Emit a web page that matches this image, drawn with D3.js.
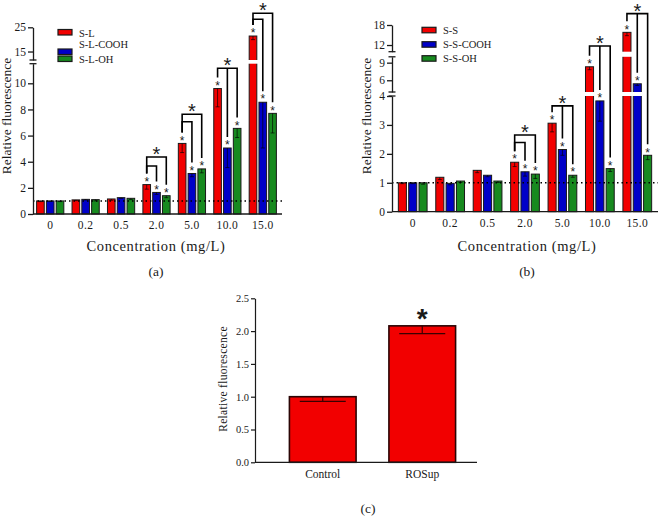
<!DOCTYPE html>
<html>
<head>
<meta charset="utf-8">
<script src="https://cdn.jsdelivr.net/npm/d3@7"></script>
<style>
body { margin: 0; background: #fff; }
text { font-family: "Liberation Serif", "DejaVu Serif", serif; fill: #1a1a1a; }
text.star { font-family: "Liberation Sans", Arial, sans-serif; }
</style>
</head>
<body>
<svg id="fig" width="659" height="518"></svg>
<script>
const concentrations = ["0", "0.2", "0.5", "2.0", "5.0", "10.0", "15.0"];

// panel (a)
const slNames = ["S-L", "S-L-COOH", "S-L-OH"];
const slMean = [1.0, 1.08, 1.15, 2.25, 5.4, 9.6, 21.4];
const slErr = [0.05, 0.06, 0.1, 0.35, 0.7, 1.4, 1.5];
const slCoohMean = [1.0, 1.12, 1.25, 1.65, 3.1, 5.05, 8.55];
const slCoohErr = [0.03, 0.05, 0.05, 0.15, 0.25, 1.5, 3.5];
const slOhMean = [1.0, 1.1, 1.2, 1.4, 3.45, 6.55, 7.7];
const slOhErr = [0.05, 0.1, 0.1, 0.15, 0.3, 0.7, 1.5];
const aBreaks = [[0, 11.5], [11.5, 25]];
const aTicks = [[0, 2, 4, 6, 8, 10], [15, 25]];
// [group index, inner bracket level, outer bracket level]
const aBrackets = [[3, 3.67, 4.36], [4, 7.06, 7.63], [5, 11.15, 11.15], [6, 28.3, 30.8]];

// panel (b)
const ssNames = ["S-S", "S-S-COOH", "S-S-OH"];
const ssMean = [1.0, 1.19, 1.43, 1.71, 3.06, 8.3, 15.8];
const ssErr = [0.03, 0.08, 0.08, 0.15, 0.3, 0.5, 1.0];
const ssCoohMean = [1.0, 0.98, 1.26, 1.38, 2.15, 3.83, 5.4];
const ssCoohErr = [0.03, 0.05, 0.05, 0.15, 0.2, 0.7, 0.3];
const ssOhMean = [1.0, 1.06, 1.06, 1.3, 1.26, 1.49, 1.95];
const ssOhErr = [0.05, 0.05, 0.05, 0.15, 0.07, 0.1, 0.15];
const bBreaks = [[0, 4], [4, 10], [10, 18]];
const bTicks = [[0, 1, 2, 3, 4], [6, 9], [12, 18]];
const bBrackets = [[3, 2.39, 2.65], [4, 3.66, 3.66], [5, 11.7, 11.7], [6, 21.4, 21.4]];

// panel (c)
const cCats = ["Control", "ROSup"];
const cMean = [1.0, 2.08];
const cErr = [0.07, 0.12];
const cTicks = [0, 0.5, 1.0, 1.5, 2.0, 2.5];

const colors = ["#f20000", "#0000c8", "#178a1f"];
const ink = "#1a1a1a";
const serif = "Liberation Serif, DejaVu Serif, serif";

const svg = d3.select("#fig");

function star(g, x, yc, size, bold) {
	// asterisk glyph sits high, shift baseline so its centre lands on yc
	g.append("text")
		.attr("class", "star")
		.attr("x", x)
		.attr("y", yc + size * 0.56)
		.attr("text-anchor", "middle")
		.attr("font-size", size)
		.attr("font-weight", bold ? "bold" : "normal")
		.text("*");
}

function groupedPanel(opt) {
	const g = svg.append("g");
	const names = opt.series.map(s => s.name);

	const x = d3.scaleBand().domain(concentrations).range(opt.xRange);
	const xs = d3.scaleBand().domain(names).range([0, x.bandwidth()])
		.paddingInner(0.22).paddingOuter(0.42);

	const segs = opt.breaks.map((d, i) => d3.scaleLinear().domain(d).range(opt.segRanges[i]));
	function y(v) {
		let s = segs[0];
		segs.forEach(sc => { if (v > sc.domain()[0]) s = sc; });
		return s(v);
	}
	const y0 = y(0);
	const cx = (ci, si) => x(concentrations[ci]) + xs(names[si]) + xs.bandwidth() / 2;

	const bars = [];
	opt.series.forEach((s, si) => {
		s.mean.forEach((v, ci) => bars.push({ si, ci, v, e: s.err[ci], color: s.color }));
	});

	g.selectAll("rect.bar").data(bars).enter().append("rect")
		.attr("class", "bar")
		.attr("x", d => x(concentrations[d.ci]) + xs(names[d.si]))
		.attr("y", d => y(d.v))
		.attr("width", xs.bandwidth())
		.attr("height", d => y0 - y(d.v))
		.attr("fill", d => d.color)
		.attr("stroke", ink)
		.attr("stroke-width", 1);

	// error bars (drawn inside the bars)
	const eb = g.selectAll("g.err").data(bars).enter().append("g")
		.attr("stroke", "rgba(0,0,0,0.65)").attr("stroke-width", 1);
	eb.append("line")
		.attr("x1", d => cx(d.ci, d.si)).attr("x2", d => cx(d.ci, d.si))
		.attr("y1", d => y(d.v)).attr("y2", d => y(d.v - d.e));
	eb.append("line")
		.attr("x1", d => cx(d.ci, d.si) - 2).attr("x2", d => cx(d.ci, d.si) + 2)
		.attr("y1", d => y(d.v - d.e)).attr("y2", d => y(d.v - d.e));

	// white gaps where the axis is broken
	for (let i = 0; i < segs.length - 1; i++) {
		const lo = segs[i].range()[1], hi = segs[i + 1].range()[0];
		g.append("rect")
			.attr("x", opt.axisX + 1).attr("y", hi)
			.attr("width", opt.axisEnd - opt.axisX).attr("height", lo - hi)
			.attr("fill", "#fff");
	}

	// dotted control level
	g.append("line")
		.attr("x1", opt.axisX).attr("x2", opt.axisEnd)
		.attr("y1", y(1)).attr("y2", y(1))
		.attr("stroke", "#000").attr("stroke-width", 1.5)
		.attr("stroke-dasharray", "1.5,3");

	// y axis segments
	segs.forEach((sc, i) => {
		const ax = g.append("g")
			.attr("transform", `translate(${opt.axisX},0)`)
			.call(d3.axisLeft(sc).tickValues(opt.ticks[i]).tickSize(5).tickSizeOuter(0).tickPadding(2).tickFormat(d3.format("d")));
		ax.attr("font-family", serif);
		ax.select(".domain").attr("stroke", ink).attr("stroke-width", 1.3);
		ax.selectAll(".tick line").attr("stroke", ink).attr("stroke-width", 1.3);
		ax.selectAll(".tick text").attr("font-size", 11.5).attr("fill", ink);
		const ends = [];
		if (i > 0) ends.push(sc.range()[0]);
		if (i < segs.length - 1) ends.push(sc.range()[1]);
		ends.forEach(e => g.append("line")
			.attr("x1", opt.axisX - 3.5).attr("x2", opt.axisX + 3.5)
			.attr("y1", e).attr("y2", e)
			.attr("stroke", ink).attr("stroke-width", 1.3));
	});

	// x axis
	g.append("line")
		.attr("x1", opt.axisX).attr("x2", opt.axisEnd)
		.attr("y1", y0).attr("y2", y0)
		.attr("stroke", ink).attr("stroke-width", 1.3);
	g.selectAll("text.xl").data(concentrations).enter().append("text")
		.attr("class", "xl")
		.attr("x", d => x(d) + x.bandwidth() / 2)
		.attr("y", y0 + 15)
		.attr("text-anchor", "middle")
		.attr("font-size", 11.5)
		.attr("letter-spacing", 0.4)
		.text(d => d);

	// significance marks
	opt.brackets.forEach(([ci, inner, outer]) => {
		const legTop = si => y(opt.series[si].mean[ci]) - 11;
		const bg = g.append("g").attr("stroke", "#000").attr("stroke-width", 1.6).attr("fill", "none");
		const xr = cx(ci, 0), xb = cx(ci, 1), xg = cx(ci, 2);
		if (inner === outer) {
			const yl = y(outer);
			bg.append("path").attr("d", `M${xr},${legTop(0)}V${yl}H${xg}V${legTop(2)}M${xb},${yl}V${legTop(1)}`);
		} else {
			const yi = y(inner), yo = y(outer);
			bg.append("path").attr("d", `M${xr},${legTop(0)}V${yi}H${xb}V${legTop(1)}`);
			bg.append("path").attr("d", `M${xr},${legTop(0)}V${yo}H${xg}V${legTop(2)}`);
		}
		star(g, (xr + xg) / 2, y(outer) - 7, 20, false);
		[0, 1, 2].forEach(si => star(g, cx(ci, si), y(opt.series[si].mean[ci]) - 5.5, 12, false));
	});

	// titles
	g.append("text")
		.attr("transform", `translate(${opt.yTitle[0]},${opt.yTitle[1]}) rotate(-90)`)
		.attr("text-anchor", "middle")
		.attr("font-size", 13.5)
		.text("Relative fluorescence");
	g.append("text")
		.attr("x", opt.xTitle[0]).attr("y", opt.xTitle[1])
		.attr("text-anchor", "middle")
		.attr("font-size", 14.5)
		.attr("letter-spacing", 0.6)
		.text("Concentration (mg/L)");
	g.append("text")
		.attr("x", opt.xTitle[0]).attr("y", 276)
		.attr("text-anchor", "middle")
		.attr("font-size", 13.5)
		.text(opt.label);

	// legend
	opt.series.forEach((s, i) => {
		const L = opt.legend[i];
		g.append("rect")
			.attr("x", L[0]).attr("y", L[1]).attr("width", 14).attr("height", 5.5)
			.attr("fill", s.color).attr("stroke", ink).attr("stroke-width", 1.2);
		g.append("text")
			.attr("x", L[0] + 21).attr("y", L[2])
			.attr("font-size", 10.5)
			.text(s.name);
	});
}

groupedPanel({
	label: "(a)",
	series: [
		{ name: slNames[0], mean: slMean, err: slErr, color: colors[0] },
		{ name: slNames[1], mean: slCoohMean, err: slCoohErr, color: colors[1] },
		{ name: slNames[2], mean: slOhMean, err: slOhErr, color: colors[2] }
	],
	xRange: [32.5, 280.5],
	axisX: 33, axisEnd: 282,
	breaks: aBreaks, ticks: aTicks,
	segRanges: [[214, 63.7], [60, 27.3]],
	brackets: aBrackets,
	yTitle: [11, 116], xTitle: [156, 251],
	legend: [[58, 29.5, 36.5], [58, 49, 47.5], [58, 56, 62.5]]
});

groupedPanel({
	label: "(b)",
	series: [
		{ name: ssNames[0], mean: ssMean, err: ssErr, color: colors[0] },
		{ name: ssNames[1], mean: ssCoohMean, err: ssCoohErr, color: colors[1] },
		{ name: ssNames[2], mean: ssOhMean, err: ssOhErr, color: colors[2] }
	],
	xRange: [394, 656],
	axisX: 392, axisEnd: 658,
	breaks: bBreaks, ticks: bTicks,
	segRanges: [[211.7, 96], [92, 56.8], [51.7, 25]],
	brackets: bBrackets,
	yTitle: [371, 116], xTitle: [527, 251],
	legend: [[422, 27.3, 33.5], [422, 41.7, 47.5], [422, 55.7, 61.5]]
});

// panel (c)
(function () {
	const g = svg.append("g");
	const x = d3.scaleBand().domain(cCats).range([273, 472]).paddingInner(0.33).paddingOuter(0.165);
	const y = d3.scaleLinear().domain([0, 2.5]).range([462.3, 298.3]);

	g.selectAll("rect").data(cMean).enter().append("rect")
		.attr("x", (d, i) => x(cCats[i]))
		.attr("y", d => y(d))
		.attr("width", x.bandwidth())
		.attr("height", d => y(0) - y(d))
		.attr("fill", "#f20000")
		.attr("stroke", "#2a0505")
		.attr("stroke-width", 1.6);

	cMean.forEach((m, i) => {
		const c = x(cCats[i]) + x.bandwidth() / 2;
		g.append("path")
			.attr("d", `M${c},${y(m)}V${y(m - cErr[i])}M${c - 23},${y(m - cErr[i])}H${c + 23}`)
			.attr("stroke", "#3a0000").attr("stroke-width", 1.2).attr("fill", "none");
	});

	const ax = g.append("g").attr("transform", "translate(255,0)")
		.call(d3.axisLeft(y).tickValues(cTicks).tickSize(4).tickSizeOuter(0).tickPadding(2).tickFormat(d3.format(".1f")));
	ax.attr("font-family", serif);
	ax.select(".domain").attr("stroke", ink).attr("stroke-width", 1.2);
	ax.selectAll(".tick line").attr("stroke", ink).attr("stroke-width", 1.2);
	ax.selectAll(".tick text").attr("font-size", 10.5).attr("fill", "#333");

	g.append("line").attr("x1", 255).attr("x2", 477).attr("y1", y(0)).attr("y2", y(0))
		.attr("stroke", ink).attr("stroke-width", 1.2);

	g.selectAll("text.xl").data(cCats).enter().append("text")
		.attr("class", "xl")
		.attr("x", d => x(d) + x.bandwidth() / 2)
		.attr("y", 478)
		.attr("text-anchor", "middle")
		.attr("font-size", 11.5)
		.attr("fill", "#333")
		.text(d => d);

	g.append("text")
		.attr("transform", "translate(227,379) rotate(-90)")
		.attr("text-anchor", "middle")
		.attr("font-size", 11.5)
		.attr("letter-spacing", 0.3)
		.attr("fill", "#333")
		.text("Relative fluorescence");

	star(g, x("ROSup") + x.bandwidth() / 2, 312.7, 28, true);

	g.append("text").attr("x", 368).attr("y", 513)
		.attr("text-anchor", "middle").attr("font-size", 13.5).text("(c)");
})();
</script>
</body>
</html>
